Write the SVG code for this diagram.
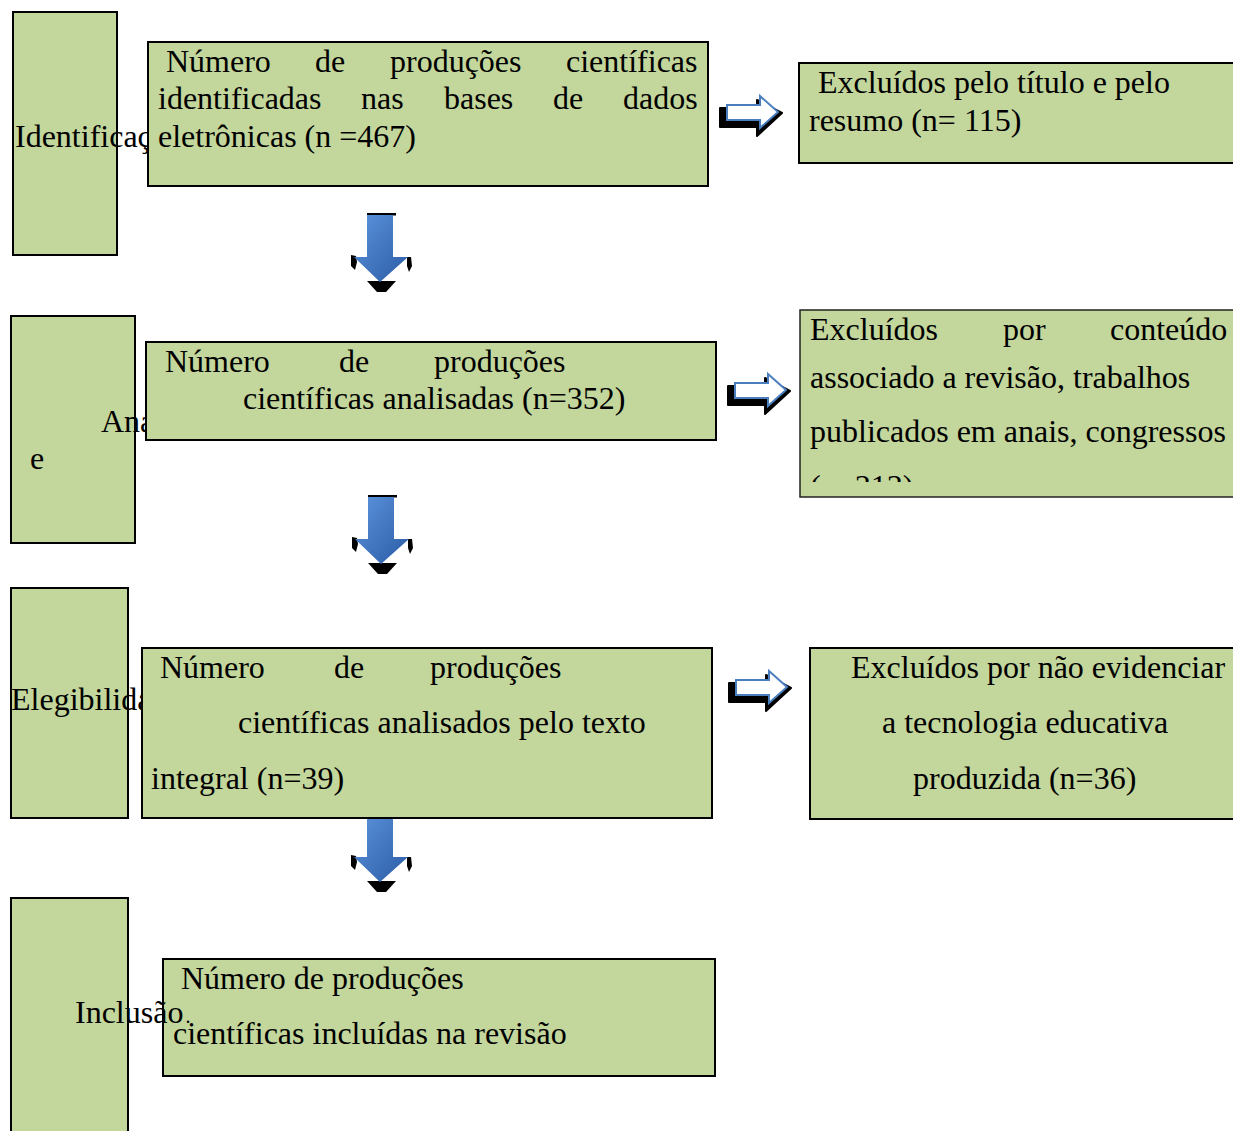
<svg xmlns="http://www.w3.org/2000/svg" width="1233" height="1131" viewBox="0 0 1233 1131">
<style>
.box{fill:#c3d69b;stroke:#000;stroke-width:2}
.rbox{fill:#c3d69b;stroke:#222;stroke-width:1.5}
.t{font-family:"Liberation Serif","Times New Roman",serif;font-size:32px;fill:#000}
</style>
<defs>
<linearGradient id="blue" x1="0" y1="0" x2="1" y2="1">
<stop offset="0" stop-color="#5d95dd"/>
<stop offset="1" stop-color="#2a5ba5"/>
</linearGradient>
<clipPath id="clipR2"><rect x="800" y="310" width="440" height="172"/></clipPath>
<g id="downArrow">
<rect x="367" y="213" width="29" height="2.5" fill="#000"/>
<polygon points="351,255 356,256 357,262 355,270 351,266" fill="#000"/>
<polygon points="407,257 411,257 412,266 409,272 407,266" fill="#000"/>
<polygon points="367,281 396,281 386,292 377,292" fill="#000"/>
<polygon points="367,215 393,215 393,257 408,257 380,282 354,257 367,257" fill="url(#blue)"/>
</g>
<g id="rightArrow">
<polygon points="720,108 757,108 757,100 782,113 757,136 757,127 720,127" fill="#000" stroke="#000" stroke-width="2" stroke-linejoin="round"/>
<polygon points="727,105 760,105 760,96 778,112 760,128 760,120 727,120" fill="#fff" stroke="#4a7ebf" stroke-width="2"/>
</g>
</defs>

<g id="connectors">
<use href="#downArrow"/>
<use href="#downArrow" transform="translate(1,282)"/>
<use href="#downArrow" transform="translate(0,600)"/>
<use href="#rightArrow"/>
<use href="#rightArrow" transform="translate(8,278)"/>
<use href="#rightArrow" transform="translate(9,575)"/>
</g>

<g id="stage-identificacao">
<rect class="box" x="13" y="12" width="104" height="243"/>
<text class="t" x="15" y="147">Identificação</text>
</g>
<g id="n-identificadas">
<rect class="box" x="148" y="42" width="560" height="144"/>
<text class="t" y="72"><tspan x="166">Número</tspan><tspan x="315">de</tspan><tspan x="390">produções</tspan><tspan x="566">científicas</tspan></text>
<text class="t" y="109"><tspan x="158">identificadas</tspan><tspan x="361">nas</tspan><tspan x="444">bases</tspan><tspan x="553">de</tspan><tspan x="623">dados</tspan></text>
<text class="t" x="158" y="147">eletrônicas (n =467)</text>
</g>
<g id="excl-titulo">
<rect class="box" x="799" y="63" width="445" height="100"/>
<text class="t" x="818" y="93">Excluídos pelo título e pelo</text>
<text class="t" x="809" y="131">resumo (n= 115)</text>
</g>

<g id="stage-analise">
<rect class="box" x="11" y="316" width="124" height="227"/>
<text class="t" x="101" y="432">Analise</text>
<text class="t" x="30" y="469">e</text>
</g>
<g id="n-analisadas">
<rect class="box" x="146" y="342" width="570" height="98"/>
<text class="t" y="372"><tspan x="165">Número</tspan><tspan x="339">de</tspan><tspan x="434">produções</tspan></text>
<text class="t" x="243" y="409">científicas analisadas (n=352)</text>
</g>
<g id="excl-conteudo">
<rect class="rbox" x="800" y="310" width="445" height="187"/>
<g clip-path="url(#clipR2)">
<text class="t" y="340"><tspan x="810">Excluídos</tspan><tspan x="1003">por</tspan><tspan x="1110">conteúdo</tspan></text>
<text class="t" x="810" y="388">associado a revisão, trabalhos</text>
<text class="t" x="810" y="442">publicados em anais, congressos</text>
<text class="t" x="810" y="497">(n=313)</text>
</g>
</g>

<g id="stage-elegibilidade">
<rect class="box" x="11" y="588" width="117" height="230"/>
<text class="t" x="11" y="710">Elegibilidade</text>
</g>
<g id="n-texto-integral">
<rect class="box" x="142" y="648" width="570" height="170"/>
<text class="t" y="678"><tspan x="160">Número</tspan><tspan x="334">de</tspan><tspan x="430">produções</tspan></text>
<text class="t" x="238" y="733">científicas analisados pelo texto</text>
<text class="t" x="151" y="789">integral (n=39)</text>
</g>
<g id="excl-tecnologia">
<rect class="box" x="810" y="648" width="435" height="171"/>
<text class="t" x="851" y="678">Excluídos por não evidenciar</text>
<text class="t" x="882" y="733">a tecnologia educativa</text>
<text class="t" x="913" y="789">produzida (n=36)</text>
</g>

<g id="n-incluidas">
<rect class="box" x="163" y="959" width="552" height="117"/>
<text class="t" x="181" y="989">Número de produções</text>
<text class="t" x="173" y="1044">científicas incluídas na revisão</text>
</g>
<g id="stage-inclusao">
<rect class="box" x="11" y="898" width="117" height="245"/>
<text class="t" x="75" y="1023">Inclusão<tspan dx="2" style="font-size:20px">.</tspan></text>
</g>
</svg>
